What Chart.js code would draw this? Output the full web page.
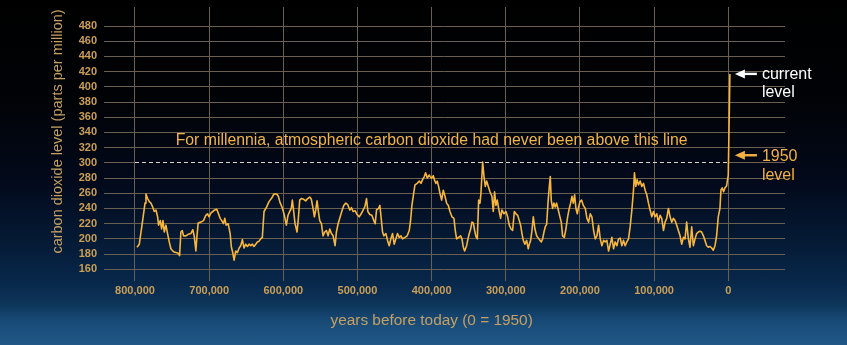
<!DOCTYPE html>
<html>
<head>
<meta charset="utf-8">
<script src="https://cdn.jsdelivr.net/npm/chart.js@4"></script>
<style>
  html, body { margin: 0; padding: 0; background: #000; }
  #wrap {
    width: 847px; height: 345px;
    background: linear-gradient(to bottom,
      #000000 0%, #010307 30%, #02091a 52%, #051a35 70%,
      #08284b 82%, #0d3459 88%, #184a76 93%, #215888 100%);
  }
  canvas { display: block; }
</style>
</head>
<body>
<div id="wrap"><canvas id="c" width="847" height="345"></canvas></div>
<script>
// Ice-core CO2 record: age in thousands of years before 1950, and CO2 in ppm
const yearsBP_ka = [
  797.3, 794.2, 791.9, 789.7, 786.5, 785.2, 783.0, 780.7, 778.5, 776.2, 774.0, 771.7, 769.5, 768.2, 765.9,
  764.1, 762.3, 760.5, 758.3, 756.1, 753.8, 751.6, 748.0, 744.8, 741.7, 739.9, 738.1, 736.3, 734.5, 731.4,
  728.3, 724.7, 722.0, 720.2, 717.9, 716.6, 714.8, 711.2, 707.6, 704.5, 702.2, 700.0, 697.8, 695.1, 692.4,
  689.7, 687.4, 685.2, 683.0, 680.7, 678.9, 677.1, 674.4, 671.7, 670.0, 668.2, 666.4, 664.1, 661.9, 659.6,
  657.4, 655.2, 652.9, 650.7, 648.4, 646.2, 644.0, 641.7, 639.5, 637.2, 635.0, 632.7, 630.5, 628.3, 626.0,
  622.4, 619.3, 616.1, 612.6, 609.0, 606.7, 604.5,
  601.4, 598.6, 595.9, 593.7, 591.4, 589.2, 587.8, 586.0, 584.2, 581.5, 579.7, 577.9, 575.7, 572.5, 569.8,
  567.1, 564.4, 562.2, 559.9, 558.1, 556.3, 554.5, 552.7, 550.9, 548.6, 546.4, 544.1, 541.9, 539.6, 537.4,
  535.1, 532.9, 530.2, 528.4, 526.1, 523.9, 521.2, 518.5, 515.8, 513.1, 510.4, 508.1, 505.9, 503.2, 500.5,
  497.7, 495.0, 492.3, 490.1, 487.8, 486.0, 483.3, 480.6, 477.9, 476.1, 474.3, 471.6, 469.8, 468.0, 466.2,
  464.4, 461.7, 459.5, 457.2, 455.0, 452.7, 450.5, 448.2, 446.0, 443.7, 441.4, 439.2, 436.0, 432.9, 430.2,
  428.4, 426.6, 424.8, 422.5, 419.4, 416.7, 414.4, 412.2, 409.9, 408.1, 405.9, 403.2,
  402.2, 400.0, 397.8, 396.0, 394.2, 392.4, 390.6, 388.8, 386.5, 384.3, 382.0, 379.8, 377.5, 375.3, 372.6,
  369.9, 368.1, 366.3, 363.6, 360.9, 359.1, 357.3, 355.5, 352.8, 351.0, 349.2, 347.4, 345.6, 343.8, 342.0,
  340.2, 338.4, 336.6, 334.8, 333.5, 331.2, 329.4, 327.6, 325.8, 323.6, 321.3, 318.7, 316.9, 315.1, 313.3,
  311.5, 309.7, 307.0, 305.2, 302.5, 299.8, 297.5, 295.3, 293.0, 290.8, 288.5, 286.3, 284.0, 281.8, 280.0,
  278.2, 276.4, 274.2, 271.9, 269.7, 268.3, 266.5, 264.7, 262.9, 260.7, 258.4, 256.2, 253.9, 252.1, 250.3,
  248.5, 246.7, 244.9, 243.1, 241.3, 240.0, 238.7, 236.9, 235.1, 233.3, 231.5, 229.2, 227.0, 225.2, 223.4,
  221.1, 218.9, 216.6, 214.4, 212.6, 210.8, 209.0, 207.2, 205.4, 203.6, 201.8, 200.0, 197.8, 195.5,
  192.8, 190.6, 188.3, 186.1, 183.9, 181.6, 179.4, 177.1, 174.9, 172.6, 170.4, 168.2, 165.9, 163.7, 161.4,
  159.2, 157.0, 154.7, 152.5, 150.2, 148.0, 145.7, 143.5, 141.3, 139.0, 136.8, 134.5, 132.3, 130.0, 127.8,
  126.5, 124.7, 122.9, 121.1, 118.8, 116.6, 114.3, 112.1, 109.9, 107.6, 105.4, 103.1, 100.9, 98.7, 96.4,
  94.2, 91.9, 89.7, 87.4, 85.2, 83.0, 80.7, 78.5, 76.2, 74.0, 71.7, 69.5, 67.3, 65.0, 62.8,
  60.5, 58.3, 56.1, 53.8, 51.6, 49.3, 47.1, 44.8, 42.6, 40.4, 38.1, 35.9, 33.6, 31.4, 29.1,
  26.9, 24.7, 22.4, 20.2, 17.9, 15.7, 13.5, 11.2, 9.9, 8.1, 6.3, 4.5, 2.2, 1.0, 0.0, -2.2
];
const co2_ppm = [
  189, 193, 209, 224, 247, 259, 253, 249, 247, 242, 236, 238, 229, 218, 224,
  213, 224, 209, 218, 207, 196, 187, 183, 182, 181, 178, 209, 211, 204, 204,
  206, 207, 212, 204, 184, 202, 221, 222, 224, 231, 233, 229, 234, 236, 238,
  239, 233, 227, 224, 220, 227, 218, 220, 207, 189, 182, 172, 184, 182, 188,
  191, 199, 188, 193, 190, 193, 191, 193, 190, 193, 196, 197, 200, 202, 236,
  242, 249, 253, 259, 259, 256, 248,
  241, 231, 218, 231, 236, 240, 251, 236, 220, 209, 227, 251, 253, 252, 250,
  253, 255, 252, 240, 229, 238, 250, 236, 224, 220, 204, 209, 211, 204, 213,
  207, 204, 191, 209, 220, 227, 236, 244, 247, 245, 238, 241, 236, 237, 232,
  229, 233, 238, 242, 253, 236, 232, 231, 224, 220, 238, 240, 244, 227, 209,
  204, 207, 198, 191, 200, 207, 193, 200, 207, 202, 204, 200, 202, 204, 211,
  224, 244, 256, 271, 273, 276, 273, 278, 282, 287, 280, 284,
  282, 280, 283, 277, 273, 276, 269, 260, 251, 264, 256, 247, 244, 236, 229,
  227, 211, 200, 202, 204, 200, 189, 184, 191, 200, 207, 213, 222, 221, 211,
  203, 200, 251, 247, 260, 301, 282, 269, 276, 269, 262, 256, 236, 262, 244,
  251, 240, 227, 238, 233, 236, 229, 218, 213, 211, 236, 233, 231, 224, 218,
  207, 198, 193, 198, 187, 193, 198, 211, 229, 213, 204, 201, 198, 196, 200,
  209, 216, 219, 247, 269, 282, 251, 240, 247, 242, 247, 238, 229, 222, 204,
  202, 213, 229, 240, 247, 256, 247, 258, 240, 233, 242, 249, 251, 244,
  240, 227, 222, 233, 229, 211, 200, 204, 218, 200, 191, 198, 196, 198, 184,
  193, 202, 187, 196, 191, 200, 201, 191, 198, 191, 196, 200, 216, 238, 264,
  287, 269, 278, 271, 276, 269, 273, 264, 258, 247, 238, 229, 236, 229, 233,
  222, 231, 227, 211, 222, 227, 240, 229, 222, 227, 224, 218, 211, 204, 193,
  202, 200, 222, 200, 189, 216, 191, 200, 207, 209, 210, 209, 204, 198, 191,
  189, 190, 188, 185, 191, 204, 229, 240, 264, 267, 262, 267, 270, 278, 284, 417
];

const xTickValues = [800, 700, 600, 500, 400, 300, 200, 100, 0];
const xTickLabels = ['800,000', '700,000', '600,000', '500,000', '400,000', '300,000', '200,000', '100,000', '0'];
const yTickValues = [160, 180, 200, 220, 240, 260, 280, 300, 320, 340, 360, 380, 400, 420, 440, 460, 480];

const thresholdPpm = 300;
const level1950Ppm = 310;
const currentPpm = co2_ppm[co2_ppm.length - 1];

const FONT = '"Liberation Sans", Arial, Helvetica, sans-serif';
const TAN = '#c99e57';
const TITLE_TAN = '#c4a064';
const LINE_ORANGE = '#f8b63c';
const GRID = '#6a6052';

function drawArrow(ctx, tipX, y, length, color) {
  ctx.save();
  ctx.strokeStyle = color;
  ctx.fillStyle = color;
  ctx.lineWidth = 2.4;
  ctx.beginPath();
  ctx.moveTo(tipX + 8, y);
  ctx.lineTo(tipX + length, y);
  ctx.stroke();
  ctx.beginPath();
  ctx.moveTo(tipX, y);
  ctx.lineTo(tipX + 10, y - 4.5);
  ctx.lineTo(tipX + 10, y + 4.5);
  ctx.closePath();
  ctx.fill();
  ctx.restore();
}

const decorations = {
  id: 'decorations',
  beforeDatasetsDraw(chart) {
    const { ctx, scales: { x, y } } = chart;
    const x0 = x.getPixelForValue(800);
    const x1 = x.getPixelForValue(0);
    const yT = Math.round(y.getPixelForValue(thresholdPpm)) - 0.5;
    ctx.save();
    ctx.lineWidth = 1;
    ctx.strokeStyle = '#03060b';
    ctx.beginPath(); ctx.moveTo(x0, yT); ctx.lineTo(x1, yT); ctx.stroke();
    ctx.setLineDash([4, 3]);
    ctx.strokeStyle = '#d6d6d6';
    ctx.beginPath(); ctx.moveTo(x0, yT); ctx.lineTo(x1, yT); ctx.stroke();
    ctx.restore();
  },
  afterDatasetsDraw(chart) {
    const { ctx, scales: { x, y } } = chart;
    const x0 = x.getPixelForValue(800);
    const x1 = x.getPixelForValue(0);
    const midX = (x0 + x1) / 2;
    ctx.save();

    // note above the threshold line
    ctx.font = '15.8px ' + FONT;
    ctx.fillStyle = '#f2b446';
    ctx.textAlign = 'center';
    ctx.textBaseline = 'middle';
    ctx.fillText('For millennia, atmospheric carbon dioxide had never been above this line', midX, 140.5);

    // arrows marking the present-day and 1950 values
    const spikeX = x.getPixelForValue(yearsBP_ka[yearsBP_ka.length - 1]);
    const tipX = spikeX + 5;
    const yNow = y.getPixelForValue(currentPpm);
    const y1950 = y.getPixelForValue(level1950Ppm);
    drawArrow(ctx, tipX, yNow, 22, '#ffffff');
    drawArrow(ctx, tipX, y1950, 22, '#f5b140');

    ctx.font = '16px ' + FONT;
    ctx.textAlign = 'left';
    ctx.textBaseline = 'alphabetic';
    ctx.fillStyle = '#ffffff';
    ctx.fillText('current', tipX + 27, yNow + 5);
    ctx.fillText('level', tipX + 27, yNow + 23);
    ctx.fillStyle = '#f5b140';
    ctx.fillText('1950', tipX + 27, y1950 + 5.5);
    ctx.fillText('level', tipX + 27, y1950 + 24.5);

    // axis titles
    ctx.fillStyle = TITLE_TAN;
    ctx.textAlign = 'center';
    ctx.textBaseline = 'middle';
    ctx.font = '15.4px ' + FONT;
    ctx.fillText('years before today (0 = 1950)', midX, 321);
    ctx.translate(58, 131.5);
    ctx.rotate(-Math.PI / 2);
    ctx.font = '14.5px ' + FONT;
    ctx.fillText('carbon dioxide level (parts per million)', 0, 0);
    ctx.restore();
  }
};

new Chart(document.getElementById('c'), {
  type: 'line',
  data: {
    datasets: [{
      data: yearsBP_ka.map((t, i) => ({ x: t, y: co2_ppm[i] })),
      borderColor: LINE_ORANGE,
      borderWidth: 1.6,
      pointRadius: 0,
      tension: 0,
      borderJoinStyle: 'round',
      fill: false
    }]
  },
  options: {
    responsive: false,
    animation: false,
    events: [],
    layout: { padding: { left: 0, right: 62, top: 7, bottom: 0 } },
    plugins: { legend: { display: false }, tooltip: { enabled: false } },
    scales: {
      x: {
        type: 'linear',
        reverse: true,
        min: -76.5,
        max: 841.8,
        afterBuildTicks: s => { s.ticks = xTickValues.map(v => ({ value: v })); },
        afterFit: s => { s.height = 70.4; s.paddingLeft = 0; s.paddingRight = 0; },
        border: { display: false },
        grid: { color: GRID, lineWidth: 1, drawTicks: true, tickLength: 6.5 },
        ticks: {
          autoSkip: false, maxRotation: 0, minRotation: 0, padding: 3,
          color: TAN, font: { family: FONT, size: 11, weight: 'bold' },
          callback: v => xTickLabels[xTickValues.indexOf(v)]
        }
      },
      y: {
        type: 'linear',
        min: 153,
        max: 505,
        afterBuildTicks: s => { s.ticks = yTickValues.map(v => ({ value: v })); },
        afterFit: s => { s.width = 104; s.paddingTop = 0; s.paddingBottom = 0; },
        border: { display: false },
        grid: { color: GRID, lineWidth: 1, drawTicks: false },
        ticks: {
          padding: 7, color: TAN,
          font: { family: FONT, size: 11, weight: 'bold' }
        }
      }
    }
  },
  plugins: [decorations]
});
</script>
</body>
</html>
